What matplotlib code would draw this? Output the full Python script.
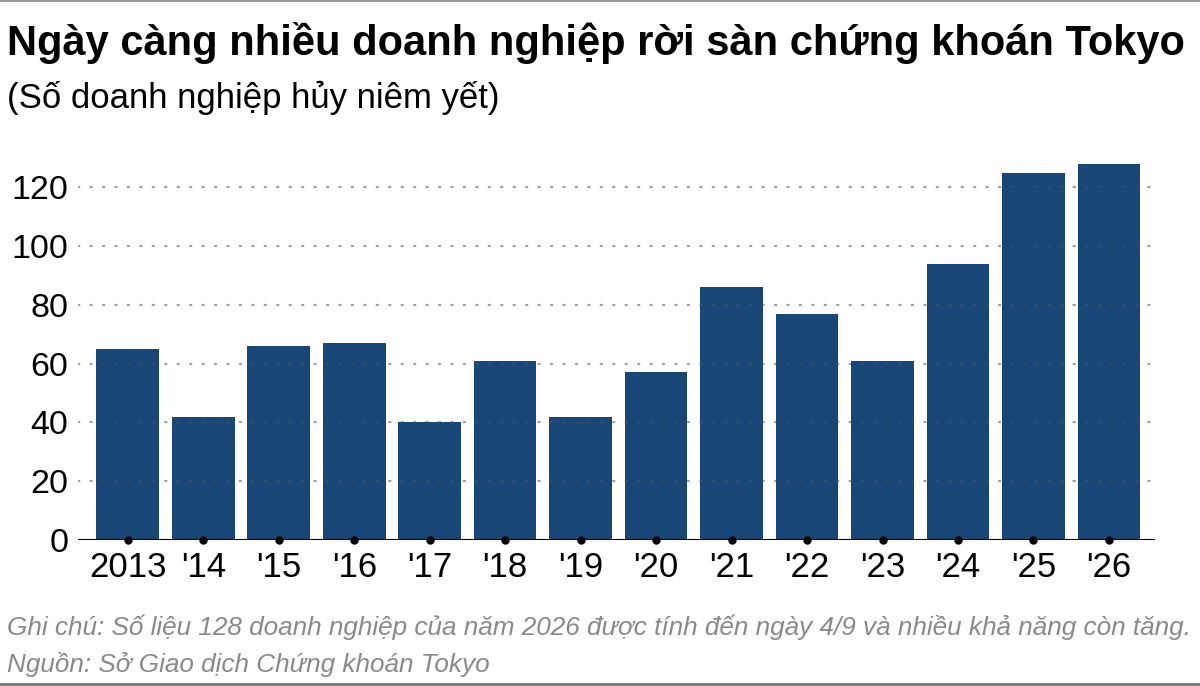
import matplotlib
matplotlib.use("Agg")
import matplotlib.pyplot as plt

years = ["2013", "'14", "'15", "'16", "'17", "'18", "'19", "'20", "'21", "'22", "'23", "'24", "'25", "'26"]
delistings = [65, 42, 66, 67, 40, 61, 42, 57, 86, 77, 61, 94, 125, 128]
yticks = [0, 20, 40, 60, 80, 100, 120]

title = "Ngày càng nhiều doanh nghiệp rời sàn chứng khoán Tokyo"
subtitle = "(Số doanh nghiệp hủy niêm yết)"
note = "Ghi chú: Số liệu 128 doanh nghiệp của năm 2026 được tính đến ngày 4/9 và nhiều khả năng còn tăng."
source = "Nguồn: Sở Giao dịch Chứng khoán Tokyo"

plt.rcParams['font.family'] = ['Liberation Sans', 'DejaVu Sans']

fig = plt.figure(figsize=(12, 6.86), dpi=100)
ax = fig.add_axes([0.065, 0.2128, 0.8975, 0.557])

x = list(range(len(years)))
ax.bar(x, delistings, width=0.83, color="#174677", zorder=2)

ax.set_xlim(-0.66, 13.61)
ax.set_ylim(0, 130)
ax.set_yticks(yticks)
ax.set_yticklabels([str(v) for v in yticks], fontsize=24.5)
ax.set_xticks(x)
ax.set_xticklabels(years, fontsize=25)
ax.tick_params(axis='x', length=0, pad=8)
ax.tick_params(axis='y', length=0, pad=7)

for s in ax.spines.values():
    s.set_visible(False)

for v in yticks[1:]:
    ax.axhline(v, color="#555555", alpha=0.55, linewidth=1.6,
               linestyle=(0, (0.6, 5)), dash_capstyle='round', zorder=3)
ax.axhline(0, color="black", linewidth=1.5, zorder=4)
ax.plot(x, [0] * len(x), linestyle='none', marker='o', markersize=5,
        color='black', zorder=5, clip_on=False)

fig.text(0.006, 0.92, title, fontsize=30, fontweight='bold', ha='left', va='baseline')
fig.text(0.006, 0.843, subtitle, fontsize=25, ha='left', va='baseline')
fig.text(0.006, 0.074, note, fontsize=18.8, style='italic', color='#8a8a8a', ha='left', va='baseline')
fig.text(0.006, 0.021, source, fontsize=18.8, style='italic', color='#8a8a8a', ha='left', va='baseline')

fig.add_artist(plt.Line2D([0, 1], [0.003, 0.003], color='#777777', linewidth=2, transform=fig.transFigure))
fig.add_artist(plt.Line2D([0, 1], [0.998, 0.998], color='#999999', linewidth=1.5, transform=fig.transFigure))

fig.savefig("out.png", dpi=100, facecolor='white')
